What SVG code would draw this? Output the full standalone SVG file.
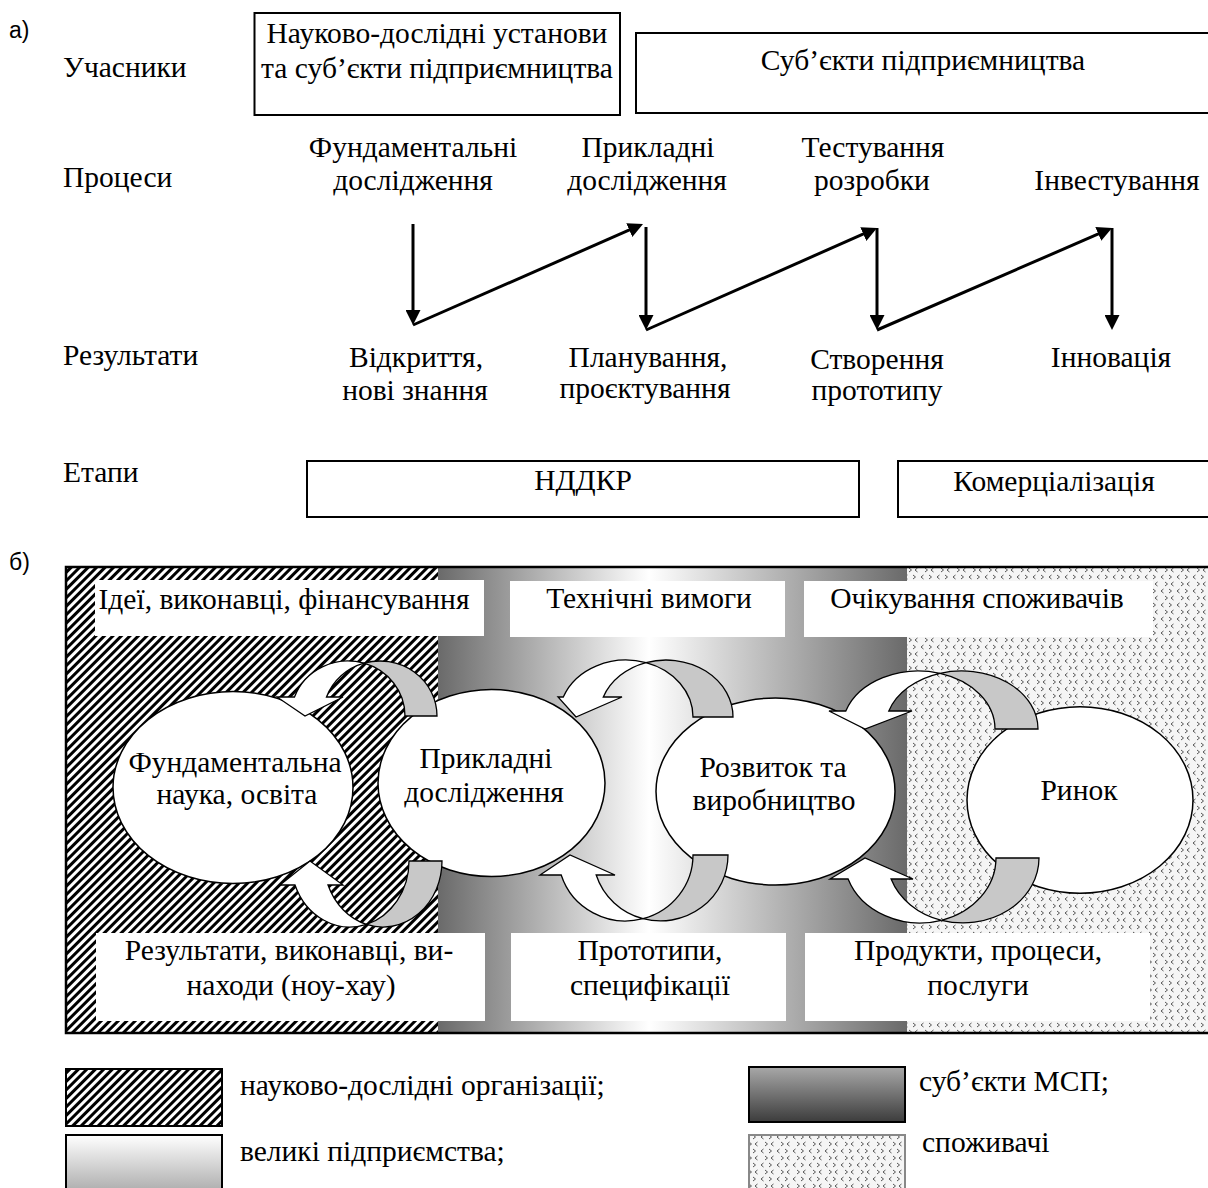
<svg xmlns="http://www.w3.org/2000/svg" width="1208" height="1188" viewBox="0 0 1208 1188">
<style>
.t{font-family:"Liberation Serif","Times New Roman",serif;font-size:29.5px;fill:#000}
.c{text-anchor:middle}
.s{font-family:"Liberation Sans",Arial,sans-serif;font-size:23px;fill:#000}
.box{fill:#fff;stroke:#000;stroke-width:2}
.node{fill:#fff;stroke:#000;stroke-width:1.5}
.wb{fill:#fff}
.cw{fill:#fff;stroke:#000;stroke-width:1.3;stroke-linejoin:miter}
.cg{fill:#c8c8c8;stroke:#000;stroke-width:1.3}
.ln{fill:none;stroke:#000;stroke-width:3;marker-end:url(#ah)}
.sw{stroke:#000;stroke-width:2}
</style>
<defs>
<marker id="ah" viewBox="0 0 15 15" refX="7" refY="7.5" markerWidth="15" markerHeight="15" markerUnits="userSpaceOnUse" orient="auto">
<path d="M0,0 L15,7.5 L0,15 Z" fill="#000"/>
</marker>
<pattern id="hatch" patternUnits="userSpaceOnUse" width="6" height="6" patternTransform="rotate(45)">
<rect width="6" height="6" fill="#fff"/>
<rect width="3" height="6" fill="#000"/>
</pattern>
<pattern id="dots" patternUnits="userSpaceOnUse" width="16" height="14">
<rect width="16" height="14" fill="#f5f5f5"/>
<path d="M1,1 L3.5,3 L1,5 M11.5,1 L9,3 L11.5,5 M5.5,8 L3,10 L5.5,12 M13,8 L15.5,10 L13,12" fill="none" stroke="#555" stroke-width="1"/>
</pattern>
<linearGradient id="mid" gradientUnits="userSpaceOnUse" x1="438" y1="0" x2="907" y2="0">
<stop offset="0" stop-color="#6a6a6a"/>
<stop offset="0.45" stop-color="#ffffff"/>
<stop offset="1" stop-color="#6a6a6a"/>
</linearGradient>
<linearGradient id="big" x1="0" y1="0" x2="0" y2="1">
<stop offset="0" stop-color="#ffffff"/>
<stop offset="1" stop-color="#a8a8a8"/>
</linearGradient>
<linearGradient id="sme" x1="0" y1="0" x2="0" y2="1">
<stop offset="0" stop-color="#a8a8a8"/>
<stop offset="1" stop-color="#3c3c3c"/>
</linearGradient>
</defs>

<!-- Part a -->
<text class="s" x="9" y="38">а)</text>
<text class="t" x="63" y="77">Учасники</text>
<text class="t" x="63" y="187">Процеси</text>
<text class="t" x="63" y="365">Результати</text>
<text class="t" x="63" y="482">Етапи</text>

<g id="participants-research">
<rect class="box" x="254.5" y="13" width="365.5" height="102"/>
<text class="t c" x="437" y="43">Науково-дослідні установи</text>
<text class="t c" x="437" y="78">та суб’єкти підприємництва</text>
</g>
<g id="participants-business">
<rect class="box" x="636" y="33" width="580" height="80"/>
<text class="t c" x="923" y="70">Суб’єкти підприємництва</text>
</g>

<g id="proc-fundamental"><text class="t c" x="413" y="157">Фундаментальні</text><text class="t c" x="413" y="190">дослідження</text></g>
<g id="proc-applied"><text class="t c" x="648" y="157">Прикладні</text><text class="t c" x="647" y="190">дослідження</text></g>
<g id="proc-testing"><text class="t c" x="873" y="157">Тестування</text><text class="t c" x="872" y="190">розробки</text></g>
<g id="proc-investing"><text class="t c" x="1117" y="190">Інвестування</text></g>

<g id="res-discovery"><text class="t c" x="416" y="367">Відкриття,</text><text class="t c" x="415" y="400">нові знання</text></g>
<g id="res-planning"><text class="t c" x="648" y="367">Планування,</text><text class="t c" x="645" y="398">проєктування</text></g>
<g id="res-prototype"><text class="t c" x="877" y="369">Створення</text><text class="t c" x="877" y="400">прототипу</text></g>
<g id="res-innovation"><text class="t c" x="1111" y="367">Інновація</text></g>

<g id="stage-rd">
<rect class="box" x="307" y="461" width="552" height="56"/>
<text class="t c" x="583" y="490">НДДКР</text>
</g>
<g id="stage-commercial">
<rect class="box" x="898" y="461" width="320" height="56"/>
<text class="t c" x="1054" y="491">Комерціалізація</text>
</g>

<g id="connectors-a">
<path class="ln" d="M413,224 L413,317"/>
<path class="ln" d="M413,325 L635.7,227.2"/>
<path class="ln" d="M646,227 L646,322"/>
<path class="ln" d="M646,330 L869.7,231.2"/>
<path class="ln" d="M877,228 L877,322"/>
<path class="ln" d="M877,330 L1104.7,231.2"/>
<path class="ln" d="M1112,228 L1112,322"/>
</g>

<!-- Part b -->
<text class="s" x="9" y="570">б)</text>
<g id="background-b">
<rect x="66" y="567" width="372" height="466" fill="url(#hatch)"/>
<rect x="438" y="567" width="469" height="466" fill="url(#mid)"/>
<rect x="907" y="567" width="310" height="466" fill="url(#dots)"/>
<rect x="66" y="567" width="1150" height="466" fill="none" stroke="#000" stroke-width="2.5"/>
</g>

<g id="label-ideas"><rect class="wb" x="95" y="580" width="389" height="56"/><text class="t c" x="284" y="609">Ідеї, виконавці, фінансування</text></g>
<g id="label-tech"><rect class="wb" x="510" y="581" width="275" height="56"/><text class="t c" x="649" y="608">Технічні вимоги</text></g>
<g id="label-expect"><rect class="wb" x="804" y="581" width="349" height="56"/><text class="t c" x="977" y="608">Очікування споживачів</text></g>

<g id="label-results"><rect class="wb" x="96" y="933" width="389" height="88"/><text class="t c" x="289" y="960">Результати, виконавці, ви-</text><text class="t c" x="291" y="995">находи (ноу-хау)</text></g>
<g id="label-prototypes"><rect class="wb" x="511" y="933" width="275" height="88"/><text class="t c" x="650" y="960">Прототипи,</text><text class="t c" x="650" y="995">специфікації</text></g>
<g id="label-products"><rect class="wb" x="805" y="933" width="345" height="88"/><text class="t c" x="978" y="960">Продукти, процеси,</text><text class="t c" x="978" y="995">послуги</text></g>

<g id="node-fundamental">
<ellipse class="node" cx="233" cy="787.5" rx="120" ry="96"/>
<text class="t c" x="235" y="772">Фундаментальна</text>
<text class="t c" x="237" y="804">наука, освіта</text>
</g>
<g id="node-applied">
<ellipse class="node" cx="491.5" cy="783" rx="113.5" ry="93.5"/>
<text class="t c" x="486" y="768">Прикладні</text>
<text class="t c" x="484" y="802">дослідження</text>
</g>
<g id="node-development">
<ellipse class="node" cx="775.5" cy="791.5" rx="119.5" ry="93.5"/>
<text class="t c" x="773" y="777">Розвиток та</text>
<text class="t c" x="774" y="810">виробництво</text>
</g>
<g id="node-market">
<ellipse class="node" cx="1080" cy="800" rx="113" ry="93.3"/>
<text class="t c" x="1079" y="800">Ринок</text>
</g>

<g id="connectors-b">
<path class="cw" d="M364,663.2 A57,55 0 0 0 294.5,697 L277,697 L305,716 L343,697 L326.5,697 A57,55 0 0 1 364,663.2 Z"/>
<path class="cg" d="M364,663.2 A57,55 0 0 1 437,716 L405,716 A57,55 0 0 0 364,663.2 Z"/>
<path class="cw" d="M366.5,924.4 A59,66 0 0 1 295,885 L280,885 L310,861 L343,885 L328,885 A59,66 0 0 0 366.5,924.4 Z"/>
<path class="cg" d="M366.5,924.4 A59,66 0 0 0 442,861 L409,861 A59,66 0 0 1 366.5,924.4 Z"/>

<path class="cw" d="M646,662.6 A67,57 0 0 0 563.3,697 L558,697 L576,717 L622,697 L603.3,697 A67,57 0 0 1 646,662.6 Z"/>
<path class="cg" d="M646,662.6 A67,57 0 0 1 733,717 L693,717 A67,57 0 0 0 646,662.6 Z"/>
<path class="cw" d="M643,918.7 A67.5,66 0 0 1 561.2,875 L540,875 L570,855 L615,875 L596.2,875 A67.5,66 0 0 0 643,918.7 Z"/>
<path class="cg" d="M643,918.7 A67.5,66 0 0 0 728,855 L693,855 A67.5,66 0 0 1 643,918.7 Z"/>

<path class="cw" d="M940,673.3 A76.5,58 0 0 0 845.8,711 L829,711 L865,729 L912,711 L888.8,711 A76.5,58 0 0 1 940,673.3 Z"/>
<path class="cg" d="M940,673.3 A76.5,58 0 0 1 1038,729 L995,729 A76.5,58 0 0 0 940,673.3 Z"/>
<path class="cw" d="M941.5,920.3 A76,65 0 0 1 848.1,879 L830,879 L865,858 L913,879 L891.1,879 A76,65 0 0 0 941.5,920.3 Z"/>
<path class="cg" d="M941.5,920.3 A76,65 0 0 0 1039,858 L996,858 A76,65 0 0 1 941.5,920.3 Z"/>
</g>

<g id="legend">
<rect class="sw" x="66" y="1069" width="156" height="57" fill="url(#hatch)"/>
<text class="t" x="240" y="1095">науково-дослідні організації;</text>
<rect class="sw" x="66" y="1135" width="156" height="60" fill="url(#big)"/>
<text class="t" x="240" y="1161">великі підприємства;</text>
<rect class="sw" x="749" y="1067" width="156" height="55" fill="url(#sme)"/>
<text class="t" x="919" y="1091">суб’єкти МСП;</text>
<rect x="749" y="1135" width="156" height="60" fill="url(#dots)" stroke="#888" stroke-width="2"/>
<text class="t" x="922" y="1152">споживачі</text>
</g>
</svg>
